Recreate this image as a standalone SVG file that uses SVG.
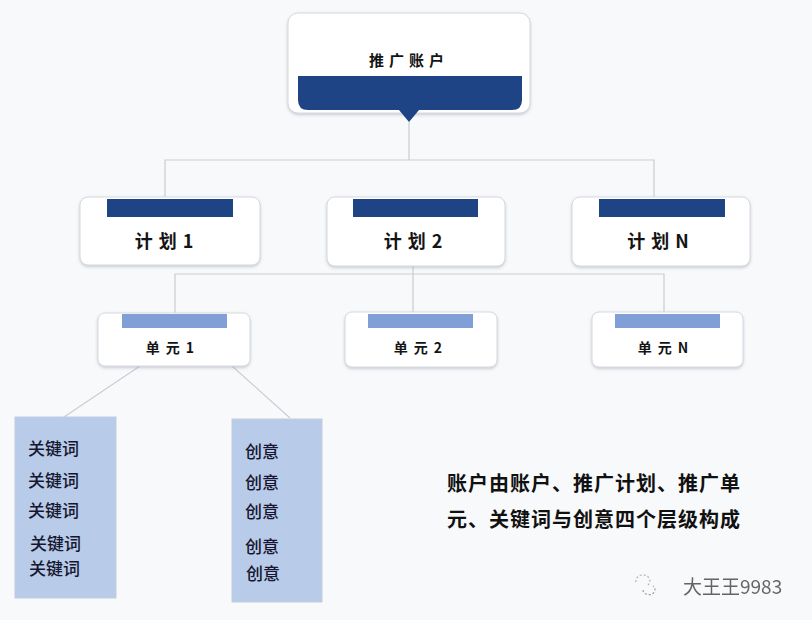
<svg xmlns="http://www.w3.org/2000/svg" width="812" height="620" viewBox="0 0 812 620">
<defs>
<filter id="sh" x="-10%" y="-10%" width="120%" height="130%">
<feDropShadow dx="0" dy="1.5" stdDeviation="1.5" flood-color="#8a93a0" flood-opacity="0.45"/>
</filter>
<style>
.box{fill:#ffffff;stroke:#d6d9de;stroke-width:1;filter:url(#sh)}
.bar{fill:#1f4486}
.ubar{fill:#7f9fd6}
.leaf{fill:#b8cbe8;stroke:#c2cde0;stroke-width:1}
.ln{fill:none;stroke:#c9cdd3;stroke-width:1.2}
.t{font-family:"Noto Sans CJK SC","Liberation Sans",sans-serif;font-weight:bold;fill:#141414;text-anchor:middle;dominant-baseline:central}
.lt{font-family:"Noto Sans CJK SC","Liberation Sans",sans-serif;font-size:17px;font-weight:500;fill:#161630;dominant-baseline:central}
.note{font-family:"Noto Sans CJK SC","Liberation Sans",sans-serif;font-size:20px;letter-spacing:1px;font-weight:bold;fill:#111111;dominant-baseline:central}
</style>
</defs>
<rect width="812" height="620" fill="#f8f9fb"/>
<g id="connectors">
<path class="ln" d="M409 122 V160 M165 198 V160 H654 V198"/>
<path class="ln" d="M413 266 V274 M175 313 V274 H664 V313 M413 274 V313"/>
<path class="ln" d="M140 366 L64 417 M232 366 L290 418"/>
</g>
<g id="n-account">
<rect class="box" x="288" y="13" width="242" height="100" rx="10"/>
<path class="bar" d="M298 76 H522 V100 Q522 110 512 110 H419 L409 122 L399 110 H308 Q298 110 298 100 Z"/>
<text class="t" x="409" y="59" font-size="15" letter-spacing="5">推广账户</text>
</g>
<g id="n-plan1">
<rect class="box" x="80" y="197" width="180" height="68" rx="8"/>
<rect class="bar" x="107" y="199" width="126" height="18"/>
<text class="t" x="167" y="240" font-size="18" letter-spacing="6">计划1</text>
</g>
<g id="n-plan2">
<rect class="box" x="327" y="197" width="178" height="69" rx="8"/>
<rect class="bar" x="353" y="199" width="125" height="18"/>
<text class="t" x="416" y="240" font-size="18" letter-spacing="6">计划2</text>
</g>
<g id="n-planN">
<rect class="box" x="572" y="197" width="178" height="69" rx="8"/>
<rect class="bar" x="599" y="199" width="126" height="18"/>
<text class="t" x="661" y="240" font-size="18" letter-spacing="6">计划N</text>
</g>
<g id="n-unit1">
<rect class="box" x="98" y="313" width="152" height="53" rx="7"/>
<rect class="ubar" x="122" y="314" width="105" height="14"/>
<text class="t" x="173" y="347" font-size="14" letter-spacing="6">单元1</text>
</g>
<g id="n-unit2">
<rect class="box" x="345" y="312" width="152" height="55" rx="7"/>
<rect class="ubar" x="368" y="314" width="105" height="14"/>
<text class="t" x="421" y="347" font-size="14" letter-spacing="6">单元2</text>
</g>
<g id="n-unitN">
<rect class="box" x="592" y="312" width="151" height="55" rx="7"/>
<rect class="ubar" x="615" y="314" width="105" height="14"/>
<text class="t" x="666" y="347" font-size="14" letter-spacing="6">单元N</text>
</g>
<g id="n-keywords">
<rect class="leaf" x="15" y="417" width="101" height="181"/>
<text class="lt" x="28" y="447">关键词</text>
<text class="lt" x="28" y="479">关键词</text>
<text class="lt" x="28" y="509">关键词</text>
<text class="lt" x="30" y="542">关键词</text>
<text class="lt" x="29" y="567">关键词</text>
</g>
<g id="n-creatives">
<rect class="leaf" x="232" y="419" width="90" height="183"/>
<text class="lt" x="245" y="450">创意</text>
<text class="lt" x="245" y="481">创意</text>
<text class="lt" x="245" y="510">创意</text>
<text class="lt" x="245" y="545">创意</text>
<text class="lt" x="246" y="572">创意</text>
</g>
<g id="note">
<text class="note" x="447" y="482">账户由账户、推广计划、推广单</text>
<text class="note" x="447" y="518">元、关键词与创意四个层级构成</text>
</g>
<g id="watermark" opacity="0.75">
<path d="M636 582 a7 6 0 1 1 12 3" fill="none" stroke="#999" stroke-width="1.2" stroke-dasharray="2 2"/>
<path d="M643 590 a6 5 0 1 0 10 -4" fill="none" stroke="#777" stroke-width="1.2" stroke-dasharray="2 2"/>
<text x="683" y="585" font-family="Noto Sans CJK SC,Liberation Sans,sans-serif" font-size="19" fill="#333" dominant-baseline="central">大王王9983</text>
</g>
</svg>
